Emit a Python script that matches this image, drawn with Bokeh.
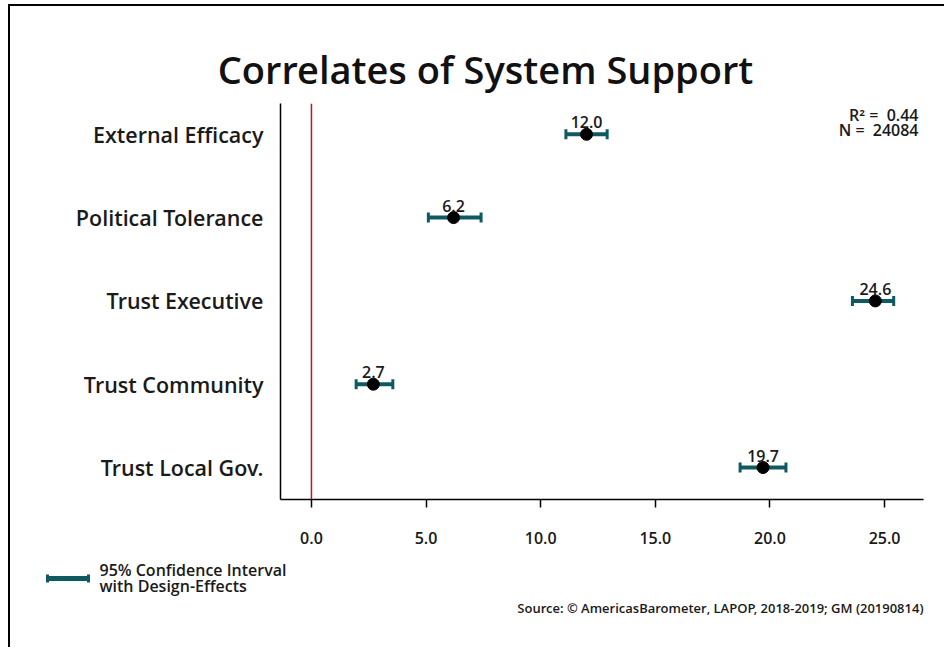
from bokeh.plotting import figure
from bokeh.layouts import column
from bokeh.models import (Range1d, FixedTicker, Span, Label, ColumnDataSource,
                          NumeralTickFormatter)
from bokeh.core.properties import value
from bokeh.embed import file_html
from bokeh.resources import INLINE

# ---- data ----
categories = ["External Efficacy", "Political Tolerance", "Trust Executive",
              "Trust Community", "Trust Local Gov."]
estimates = [12.0, 6.2, 24.6, 2.7, 19.7]
ci_low = [11.1, 5.1, 23.6, 1.95, 18.7]
ci_high = [12.9, 7.4, 25.4, 3.55, 20.7]
x_ticks = [0, 5, 10, 15, 20, 25]
r2_text = "R\u00b2 =\u00a0\u00a00.44"
n_text = "N =\u00a0\u00a024084"
title_text = "Correlates of System Support"
source_text = "Source: \u00a9 AmericasBarometer, LAPOP, 2018-2019; GM (20190814)"
legend_lines = ["95% Confidence Interval", "with Design-Effects"]

FONT = "'Open Sans SemiBold', 'Open Sans'"
TEAL = "#0f5a60"
RED = "#c8102e"
TXT = "#1a1a1a"

W = 934
H_TOP, H_MAIN, H_BOT = 97, 457, 87

n = len(categories)
ypos = [n - i for i in range(n)]
labels = ["%.1f" % v for v in estimates]
src = ColumnDataSource(dict(y=ypos, est=estimates, lo=ci_low, hi=ci_high, lab=labels))

X0, X1 = -1.35, 26.7
Y0, Y1 = 0.616, 5.37
# frame in main-figure pixels
FL, FR, FT, FB = 270, 913, 0, 396

def px2x(px):
    return X0 + (px - FL) / (FR - FL) * (X1 - X0)

def px2y(py):
    return Y1 - (py - FT) / (FB - FT) * (Y1 - Y0)


def blank(h):
    f = figure(width=W, height=h, output_backend="svg", toolbar_location=None,
               x_range=Range1d(0, W), y_range=Range1d(h, 0),
               x_axis_location=None, y_axis_location=None, min_border=0,
               frame_align=False)
    f.outline_line_color = None
    f.xgrid.grid_line_color = None
    f.ygrid.grid_line_color = None
    return f

# ---- title ----
top = blank(H_TOP)
top.add_layout(Label(x=475, y=62, text=title_text, text_align="center",
                     text_baseline="middle", text_font=FONT,
                     text_font_size="38px", text_color="#111111"))

# ---- main ----
p = figure(width=W, height=H_MAIN, output_backend="svg", toolbar_location=None,
           x_range=Range1d(X0, X1), y_range=Range1d(Y0, Y1),
           min_border_left=FL, min_border_right=W - FR, min_border_top=FT,
           min_border_bottom=H_MAIN - FB, frame_align=False)
p.outline_line_color = None
p.xgrid.grid_line_color = None
p.ygrid.grid_line_color = None

p.xaxis.ticker = FixedTicker(ticks=x_ticks)
p.xaxis.formatter = NumeralTickFormatter(format="0.0")
p.xaxis.major_tick_in = 0
p.xaxis.major_tick_out = 8
p.xaxis.minor_tick_line_color = None
p.xaxis.major_tick_line_width = 1.5
p.xaxis.axis_line_width = 1.5
p.xaxis.major_label_standoff = 24
p.xaxis.major_label_text_font = FONT
p.xaxis.major_label_text_font_style = "normal"
p.xaxis.major_label_text_font_size = "16px"
p.xaxis.major_label_text_color = TXT

p.yaxis.ticker = FixedTicker(ticks=ypos)
p.yaxis.major_label_overrides = {y: c for y, c in zip(ypos, categories)}
p.yaxis.major_tick_line_color = None
p.yaxis.minor_tick_line_color = None
p.yaxis.axis_line_width = 1.5
p.yaxis.major_label_standoff = 11
p.yaxis.major_label_text_font = FONT
p.yaxis.major_label_text_font_style = "normal"
p.yaxis.major_label_text_font_size = "21.5px"
p.yaxis.major_label_text_color = TXT

p.add_layout(Span(location=0, dimension="height", line_color=RED, line_width=1.5))

p.segment(x0="lo", x1="hi", y0="y", y1="y", source=src, line_color=TEAL, line_width=4)
p.rect(x="lo", y="y", width=3, height=10, width_units="screen", height_units="screen",
       source=src, fill_color=TEAL, line_color=None)
p.rect(x="hi", y="y", width=3, height=10, width_units="screen", height_units="screen",
       source=src, fill_color=TEAL, line_color=None)
p.scatter(x="est", y="y", source=src, size=12, fill_color="black", line_color="black")
p.text(x="est", y="y", text="lab", source=src, text_align="center",
       text_baseline="alphabetic", y_offset=-12, text_font=value(FONT),
       text_font_size="16px", text_color=TXT)

p.add_layout(Label(x=px2x(908), y=px2y(11), text=r2_text, text_align="right",
                   text_baseline="middle", text_font=FONT,
                   text_font_size="16px", text_color=TXT))
p.add_layout(Label(x=px2x(908), y=px2y(26), text=n_text, text_align="right",
                   text_baseline="middle", text_font=FONT,
                   text_font_size="16px", text_color=TXT))

# ---- bottom: legend + source ----
bot = blank(H_BOT)
bot.segment(x0=[37], x1=[78], y0=[18], y1=[18], line_color=TEAL, line_width=5)
bot.rect(x=[37, 78], y=[18, 18], width=3, height=8, width_units="screen",
         height_units="screen", fill_color=TEAL, line_color=None)
bot.add_layout(Label(x=89, y=9, text=legend_lines[0], text_align="left",
                     text_baseline="middle", text_font=FONT,
                     text_font_size="16px", text_color=TXT))
bot.add_layout(Label(x=89, y=25, text=legend_lines[1], text_align="left",
                     text_baseline="middle", text_font=FONT,
                     text_font_size="16px", text_color=TXT))
bot.add_layout(Label(x=913, y=47, text=source_text, text_align="right",
                     text_baseline="middle", text_font=FONT,
                     text_font_size="13px", text_color=TXT))

layout = column(top, p, bot, spacing=0)
layout.styles = {"margin-left": "8px", "margin-top": "4px",
                 "border-top": "2px solid black", "border-left": "2px solid black"}

open("out.html", "w").write(file_html(layout, INLINE))
